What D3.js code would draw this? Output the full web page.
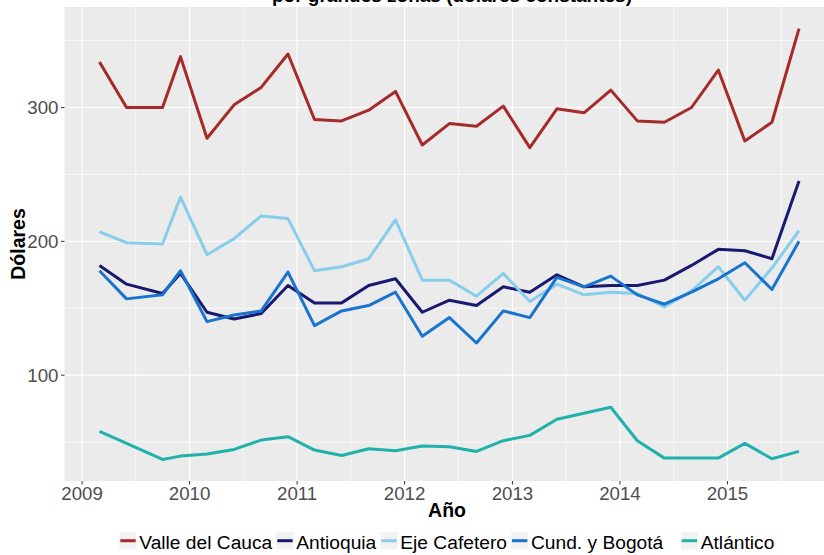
<!DOCTYPE html>
<meta charset="utf-8">
<style>
body { margin: 0; background: #fff; }
svg { font-family: "Liberation Sans", Arial, sans-serif; display: block; }
.grid-major { stroke: #fff; stroke-width: 1.2; }
.grid-minor { stroke: #fff; stroke-width: 0.6; }
.tick-label { fill: #4d4d4d; font-size: 18.7px; }
.axis-title { fill: #000; font-size: 19.5px; font-weight: bold; }
.legend-label { fill: #000; font-size: 19.2px; }
</style>
<body>
<script src="https://cdn.jsdelivr.net/npm/d3@7"></script>
<script>

// fechas de cada observacion
var dates = ["2009-03-01","2009-06-01","2009-10-01","2009-12-01",
  "2010-03-01","2010-06-01","2010-09-01","2010-12-01",
  "2011-03-01","2011-06-01","2011-09-01","2011-12-01",
  "2012-03-01","2012-06-01","2012-09-01","2012-12-01",
  "2013-03-01","2013-06-01","2013-09-01","2013-12-01",
  "2014-03-01","2014-06-01","2014-09-01","2014-12-01",
  "2015-03-01","2015-06-01","2015-09-01"];

var zonas = ["Valle del Cauca", "Antioquia", "Eje Cafetero", "Cund. y Bogotá", "Atlántico"];
var colores = ["#a52a2a", "#191970", "#87ceeb", "#1874cd", "#20b2aa"];

var valle = [334, 300, 300, 338, 277, 302, 315, 340, 291, 290, 298, 312, 272, 288,
  286, 301, 270, 299, 296, 313, 290, 289, 300, 328, 275, 289, 359];
var antioquia = [182, 168, 161, 176, 147, 142, 146, 167, 154, 154, 167, 172, 147, 156,
  152, 166, 162, 175, 166, 167, 167, 171, 182, 194, 193, 187, 245];
var cafetero = [207, 199, 198, 233, 190, 202, 219, 217, 178, 181, 187, 216, 171, 171,
  159, 176, 155, 168, 160, 162, 161, 151, 163, 181, 156, 180, 208];
var bogota = [178, 157, 160, 178, 140, 145, 148, 177, 137, 148, 152, 162, 129, 143,
  124, 148, 143, 173, 166, 174, 160, 153, 162, 172, 184, 164, 200];
var atlantico = [58, 49, 37, 39.5, 41, 44.5, 51.5, 54, 44, 40, 45, 43.5, 47, 46.5,
  43, 51, 55, 67, 71.5, 76, 51, 38, 38, 38, 49, 37.5, 43];

var series = [valle, antioquia, cafetero, bogota, atlantico];

var xTicks = [2009, 2010, 2011, 2012, 2013, 2014, 2015];
var yTicks = [100, 200, 300];

var width = 824, height = 555;
var panel = {left: 64.5, right: 834, top: 7, bottom: 481};

var parse = d3.timeParse("%Y-%m-%d");
var fechas = dates.map(parse);

// expansion del 5% como en ggplot
var tExt = d3.extent(fechas), tPad = (tExt[1] - tExt[0]) * 0.05;
var x = d3.scaleTime()
  .domain([new Date(+tExt[0] - tPad), new Date(+tExt[1] + tPad)])
  .range([panel.left, panel.right]);

var allVals = d3.merge(series);
var vMin = d3.min(allVals), vMax = d3.max(allVals), vPad = (vMax - vMin) * 0.05;
var y = d3.scaleLinear()
  .domain([vMin - vPad, vMax + vPad])
  .range([panel.bottom, panel.top]);

var svg = d3.select("body").append("svg")
  .attr("width", width)
  .attr("height", height);

svg.append("rect")
  .attr("x", panel.left).attr("y", panel.top)
  .attr("width", panel.right - panel.left)
  .attr("height", panel.bottom - panel.top)
  .attr("fill", "#ebebeb");

// grid menor
var xMinor = xTicks.map(function (d) { return d + 0.5; });
xMinor.unshift(2008.5);
var yMinor = [50, 150, 250, 350];
function yearDate(f) {
  var yr = Math.floor(f);
  var frac = f - yr;
  var a = new Date(yr, 0, 1), b = new Date(yr + 1, 0, 1);
  return new Date(+a + (b - a) * frac);
}

svg.selectAll(".xminor").data(xMinor).enter().append("line")
  .attr("class", "grid-minor")
  .attr("x1", function (d) { return x(yearDate(d)); })
  .attr("x2", function (d) { return x(yearDate(d)); })
  .attr("y1", panel.top).attr("y2", panel.bottom)
  .style("display", function (d) { return x(yearDate(d)) < panel.left ? "none" : null; });

svg.selectAll(".yminor").data(yMinor).enter().append("line")
  .attr("class", "grid-minor")
  .attr("x1", panel.left).attr("x2", panel.right)
  .attr("y1", function (d) { return y(d); })
  .attr("y2", function (d) { return y(d); });

svg.selectAll(".xmajor").data(xTicks).enter().append("line")
  .attr("class", "grid-major")
  .attr("x1", function (d) { return x(yearDate(d)); })
  .attr("x2", function (d) { return x(yearDate(d)); })
  .attr("y1", panel.top).attr("y2", panel.bottom);

svg.selectAll(".ymajor").data(yTicks).enter().append("line")
  .attr("class", "grid-major")
  .attr("x1", panel.left).attr("x2", panel.right)
  .attr("y1", function (d) { return y(d); })
  .attr("y2", function (d) { return y(d); });

// lineas
var line = d3.line()
  .x(function (d, i) { return x(fechas[i]); })
  .y(function (d) { return y(d); });

svg.selectAll(".serie").data(series).enter().append("path")
  .attr("d", line)
  .attr("fill", "none")
  .attr("stroke", function (d, i) { return colores[i]; })
  .attr("stroke-width", 3)
  .attr("stroke-linejoin", "round");

// ejes
svg.selectAll(".ytick").data(yTicks).enter().append("line")
  .attr("x1", panel.left - 3.5).attr("x2", panel.left)
  .attr("y1", function (d) { return y(d); })
  .attr("y2", function (d) { return y(d); })
  .attr("stroke", "#333").attr("stroke-width", 1);

svg.selectAll(".ylab").data(yTicks).enter().append("text")
  .attr("class", "tick-label")
  .attr("x", panel.left - 6)
  .attr("y", function (d) { return y(d); })
  .attr("dy", "0.36em")
  .attr("text-anchor", "end")
  .text(function (d) { return d; });

svg.selectAll(".xtick").data(xTicks).enter().append("line")
  .attr("x1", function (d) { return x(yearDate(d)); })
  .attr("x2", function (d) { return x(yearDate(d)); })
  .attr("y1", panel.bottom).attr("y2", panel.bottom + 3.5)
  .attr("stroke", "#333").attr("stroke-width", 1);

svg.selectAll(".xlab").data(xTicks).enter().append("text")
  .attr("class", "tick-label")
  .attr("x", function (d) { return x(yearDate(d)); })
  .attr("y", panel.bottom + 18.5)
  .attr("text-anchor", "middle")
  .text(function (d) { return d; });

svg.append("text")
  .attr("class", "axis-title")
  .attr("x", 447).attr("y", 517)
  .attr("text-anchor", "middle")
  .text("Año");

svg.append("text")
  .attr("class", "axis-title")
  .attr("transform", "translate(25,244) rotate(-90)")
  .attr("text-anchor", "middle")
  .text("Dólares");

// el titulo queda cortado por el borde superior, como en el original
svg.append("text")
  .attr("class", "axis-title")
  .attr("x", 452).attr("y", 2)
  .attr("text-anchor", "middle")
  .style("font-size", "19px")
  .text("por grandes zonas (dólares constantes)");

// leyenda
var legendGap = [4, 4, 4, 17.5, 0];
var lx = 119.3;
zonas.forEach(function (z, i) {
  var g = svg.append("g").attr("transform", "translate(" + lx + ",532)");
  g.append("rect").attr("width", 17.4).attr("height", 17.4).attr("fill", "#f2f2f2");
  g.append("line").attr("x1", 1).attr("x2", 16.4)
    .attr("y1", 8.7).attr("y2", 8.7)
    .attr("stroke", colores[i]).attr("stroke-width", 3);
  var t = g.append("text").attr("class", "legend-label")
    .attr("x", 20).attr("y", 17)
    .text(z);
  lx += 20 + t.node().getComputedTextLength() + legendGap[i];
});

</script>
